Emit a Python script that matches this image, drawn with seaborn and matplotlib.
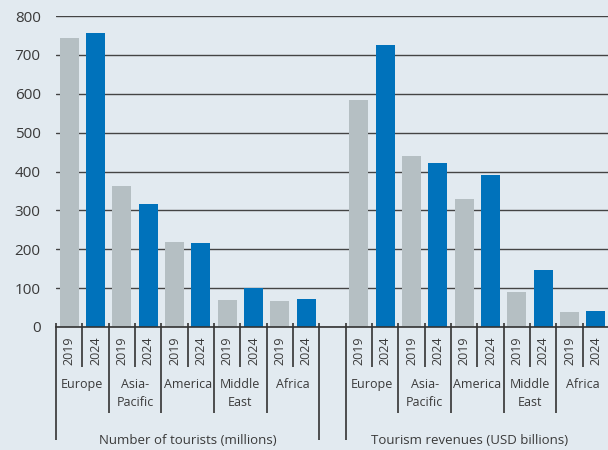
import matplotlib
matplotlib.use("Agg")
import matplotlib.pyplot as plt
import matplotlib.transforms as mtrans
import seaborn as sns
import pandas as pd

# ---- data ----
regions = ["Europe", "Asia-\nPacific", "America", "Middle\nEast", "Africa"]
years = ["2019", "2024"]
tourists_2019 = [743, 362, 218, 70, 67]
tourists_2024 = [756, 316, 216, 100, 72]
revenues_2019 = [585, 440, 330, 89, 39]
revenues_2024 = [725, 422, 391, 147, 41]
panels = ["Number of tourists (millions)", "Tourism revenues (USD billions)"]
y_ticks = [0, 100, 200, 300, 400, 500, 600, 700, 800]

# ---- style ----
BG = "#e2eaf0"
GREY = "#b5bfc3"
BLUE = "#0072bb"
TXT = "#3a3a3a"
LINE = "#333333"

sns.set_theme(style="white")
plt.rcParams["font.family"] = ["Open Sans", "DejaVu Sans"]

# ---- table ----
rows = []
order = []
panel_values = [(tourists_2019, tourists_2024), (revenues_2019, revenues_2024)]
for pi, (v19, v24) in enumerate(panel_values):
    for ri, r in enumerate(regions):
        for y, vals in zip(years, (v19, v24)):
            slot = f"{pi}|{r}|{y}"
            order.append(slot)
            rows.append({"slot": slot, "year": y, "value": vals[ri]})
    if pi == 0:
        order.append("gap")
df = pd.DataFrame(rows)

W, H = 608, 450
fig = plt.figure(figsize=(W / 100, H / 100), dpi=100, facecolor=BG)
ax_left, ax_right, ax_top, ax_bot = 56, 609, 16, 327
ax = fig.add_axes([ax_left / W, 1 - ax_bot / H, (ax_right - ax_left) / W, (ax_bot - ax_top) / H])
ax.set_facecolor(BG)

sns.barplot(data=df, x="slot", y="value", hue="year", order=order, hue_order=years,
            palette=[GREY, BLUE], dodge=False, width=0.72, saturation=1,
            legend=False, ax=ax, zorder=3, linewidth=0)

ax.set_xlim(-0.5, len(order) - 0.5)
ax.set_ylim(0, 800)
ax.set_yticks(y_ticks)
ax.set_yticklabels([str(t) for t in y_ticks], fontsize=11, color=TXT)
ax.tick_params(axis="y", length=0, pad=11)
ax.tick_params(axis="x", length=0, labelbottom=False)
ax.set_xlabel("")
ax.set_ylabel("")
ax.yaxis.grid(True, color="#444444", linewidth=1.0, zorder=0)
ax.set_axisbelow(True)
for s in ["left", "right", "top"]:
    ax.spines[s].set_visible(False)
ax.spines["bottom"].set_color(LINE)
ax.spines["bottom"].set_linewidth(1.2)
ax.spines["bottom"].set_zorder(5)

# separators & labels below axis (x in data, y in figure pixels)
tr = mtrans.blended_transform_factory(ax.transData, fig.transFigure)
def fy(p):
    return 1 - p / H

def vline(x, y0, y1):
    ax.plot([x, x], [fy(y0), fy(y1)], transform=tr, color=LINE, lw=1.2,
            clip_on=False, solid_capstyle="butt")

n = len(regions)
starts = [0, 2 * n + 1]
for pi, st in enumerate(starts):
    # panel edges
    vline(st - 0.5, 323, 440)
    vline(st + 2 * n - 0.5, 323, 440)
    for ri, r in enumerate(regions):
        base = st + 2 * ri
        # year separator
        vline(base + 0.5, 323, 367)
        if ri > 0:
            vline(base - 0.5, 323, 413)
        for yi, y in enumerate(years):
            ax.text(base + yi, fy(351), y, transform=tr, rotation=90,
                    ha="center", va="center", fontsize=9, color=TXT)
        ax.text(base + 0.5, fy(378), r, transform=tr, ha="center", va="top",
                fontsize=9, color=TXT, linespacing=1.45)
    cx = st + n - 0.5
    if pi == 1:
        cx -= 0.3
    ax.text(cx, fy(440), panels[pi], transform=tr, ha="center", va="center",
            fontsize=9.5, color=TXT)

fig.savefig("out.png", dpi=100, facecolor=BG)
